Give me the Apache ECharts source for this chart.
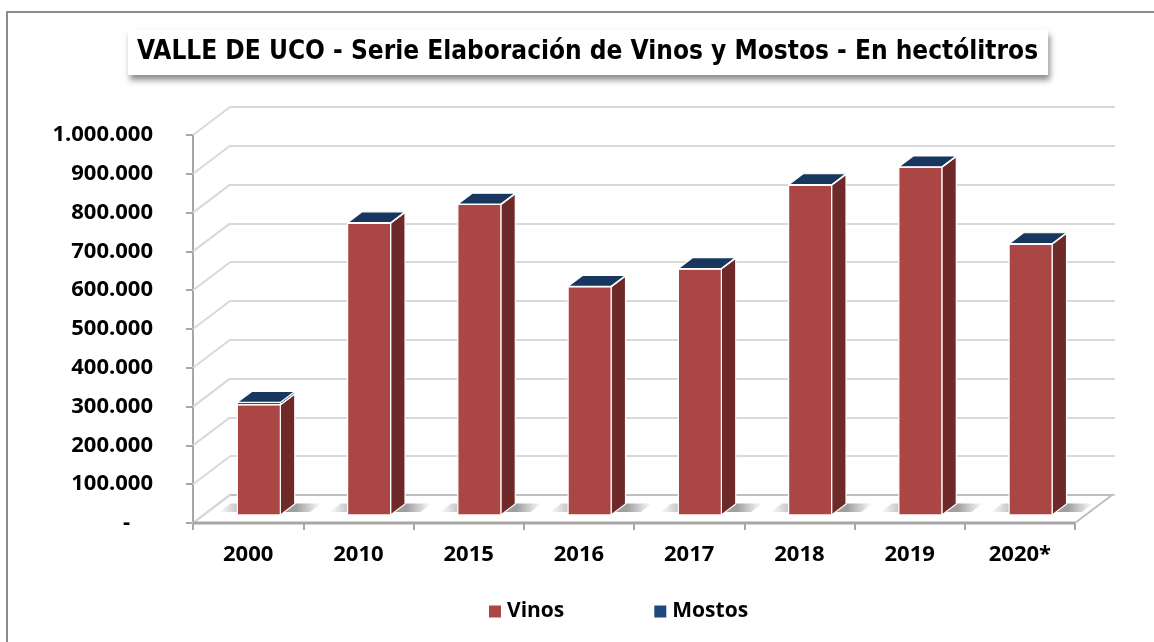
<!DOCTYPE html>
<html>
<head>
<meta charset="utf-8">
<script src="https://cdn.jsdelivr.net/npm/echarts@6/dist/echarts.min.js"></script>
<style>
  html, body { margin: 0; padding: 0; background: #fff; }
  #chart { width: 1154px; height: 642px; }
</style>
</head>
<body>
<div id="chart"></div>
<script>
// datos (hectólitros)
var years = ['2000', '2010', '2015', '2016', '2017', '2018', '2019', '2020*'];
var vinos = [284000, 752000, 800000, 588000, 634000, 850000, 896000, 698000];
var mostos = [6000, 1000, 1000, 1000, 1000, 1000, 1000, 1000];
var yTicks = [0, 100000, 200000, 300000, 400000, 500000, 600000, 700000, 800000, 900000, 1000000];

// profundidad del efecto 3D
var DX = 37, DY = -28;
var F1 = 0.29, F2 = 0.68;   // cara frontal / trasera de la barra (fraccion de profundidad)
var BAR = 0.39;             // ancho de barra respecto a la categoria

var fontAxis = "'Open Sans', 'DejaVu Sans', sans-serif";

function fmt(v) {
  if (v === 0) return '-    ';
  return String(v).replace(/\B(?=(\d{3})+(?!\d))/g, '.');
}

function boxItems(api, base, top, c) {
  var cat = api.value(0);
  var pB = api.coord([cat, base]);
  var pT = api.coord([cat, top]);
  var w = api.size([1, 0])[0] * BAR;
  var xL = pB[0] - w / 2 + F1 * DX;
  var yB = pB[1] + F1 * DY;
  var yT = pT[1] + F1 * DY;
  var dx = (F2 - F1) * DX, dy = (F2 - F1) * DY;
  var edge = { stroke: '#fff', lineWidth: 1.2, lineJoin: 'round' };
  return [
    { type: 'polygon', shape: { points: [[xL + w, yT], [xL + w + dx, yT + dy], [xL + w + dx, yB + dy], [xL + w, yB]] },
      style: Object.assign({ fill: c.side }, edge) },
    { type: 'rect', shape: { x: xL, y: yT, width: w, height: yB - yT },
      style: Object.assign({ fill: c.front }, edge) },
    { type: 'polygon', shape: { points: [[xL, yT], [xL + w, yT], [xL + w + dx, yT + dy], [xL + dx, yT + dy]] },
      style: Object.assign({ fill: c.top }, edge) }
  ];
}

var shadowFill = new echarts.graphic.LinearGradient(0, 0, 1, 0, [
  { offset: 0, color: 'rgba(0,0,0,0)' },
  { offset: 0.3, color: 'rgba(0,0,0,0.38)' },
  { offset: 0.75, color: 'rgba(0,0,0,0.38)' },
  { offset: 1, color: 'rgba(0,0,0,0)' }
]);

var chart = echarts.init(document.getElementById('chart'));

var option = {
  animation: false,
  backgroundColor: '#fff',
  title: {
    text: 'VALLE DE UCO - Serie Elaboración de Vinos y Mostos - En hectólitros',
    left: 128,
    top: 30,
    padding: [9, 10, 10, 9],
    backgroundColor: '#fff',
    shadowColor: 'rgba(0,0,0,0.45)',
    shadowBlur: 6,
    shadowOffsetX: 2,
    shadowOffsetY: 5,
    textStyle: {
      fontFamily: "'DejaVu Sans Condensed', 'Liberation Sans Narrow', sans-serif",
      fontWeight: 'bold',
      fontSize: 26,
      color: '#000'
    }
  },
  legend: {
    left: 484,
    top: 596,
    itemGap: 90,
    itemWidth: 12,
    itemHeight: 12,
    icon: 'rect',
    data: ['Vinos', 'Mostos'],
    textStyle: { fontFamily: fontAxis, fontWeight: 'bold', fontSize: 21, color: '#000', padding: [0, 0, 0, 1] }
  },
  graphic: [{
    type: 'rect',
    shape: { x: 7, y: 12, width: 1200, height: 700 },
    style: { fill: 'none', stroke: '#8c8c8c', lineWidth: 2 },
    silent: true
  }],
  grid: [
    { left: 193, right: 79, top: 135, bottom: 119 },
    { left: 230, right: 39, top: 107, bottom: 147 }
  ],
  xAxis: [{
    type: 'category',
    gridIndex: 0,
    data: years,
    axisLine: { lineStyle: { color: '#a6a6a6', width: 2 } },
    axisTick: { show: true, length: 7, lineStyle: { color: '#a6a6a6', width: 2 } },
    axisLabel: { margin: 21, fontFamily: fontAxis, fontWeight: 'bold', fontSize: 22, color: '#000' }
  }, {
    type: 'category',
    gridIndex: 1,
    data: years,
    show: false
  }],
  yAxis: [{
    type: 'value',
    gridIndex: 0,
    min: 0,
    max: 1000000,
    interval: 100000,
    axisLine: { show: true, lineStyle: { color: '#a6a6a6', width: 2 } },
    axisTick: { show: true, length: 7, lineStyle: { color: '#a6a6a6', width: 2 } },
    splitLine: { show: false },
    axisLabel: { margin: 40, formatter: fmt, fontFamily: fontAxis, fontWeight: 'bold', fontSize: 22, color: '#000' }
  }, {
    type: 'value',
    gridIndex: 1,
    min: 0,
    max: 1000000,
    interval: 100000,
    axisLine: { show: false },
    axisTick: { show: false },
    axisLabel: { show: false },
    splitLine: { show: true, lineStyle: { color: '#d9d9d9', width: 2 } }
  }],
  series: [{
    // pared izquierda y piso
    type: 'custom',
    name: 'walls',
    xAxisIndex: 0,
    yAxisIndex: 0,
    z: 1,
    silent: true,
    legendHoverLink: false,
    data: yTicks.map(function (v) { return [0, v]; }),
    renderItem: function (params, api) {
      var cs = params.coordSys;
      var p = api.coord([0, api.value(1)]);
      var children = [{
        type: 'line',
        shape: { x1: cs.x, y1: p[1], x2: cs.x + DX, y2: p[1] + DY },
        style: { stroke: '#d9d9d9', lineWidth: 2 }
      }];
      if (params.dataIndex === 0) {
        var yb = cs.y + cs.height, x0 = cs.x, x1 = cs.x + cs.width;
        children.unshift({
          type: 'polygon',
          shape: { points: [[x0, yb], [x1, yb], [x1 + DX, yb + DY], [x0 + DX, yb + DY]] },
          style: { fill: '#fff', stroke: '#bfbfbf', lineWidth: 2 }
        });
        children.push({
          type: 'line',
          shape: { x1: x0, y1: yb, x2: x1, y2: yb },
          style: { stroke: '#a6a6a6', lineWidth: 3 }
        });
      }
      return { type: 'group', children: children };
    }
  }, {
    // sombra de las barras
    type: 'custom',
    name: 'shadow',
    xAxisIndex: 0,
    yAxisIndex: 0,
    z: 2,
    silent: true,
    data: vinos.map(function (v, i) { return [i, 0]; }),
    renderItem: function (params, api) {
      var pB = api.coord([api.value(0), 0]);
      var w = api.size([1, 0])[0] * BAR;
      var xL = pB[0] - w / 2;
      var a = F1 + 0.1, b = F2 + 0.02;
      return {
        type: 'polygon',
        shape: { points: [
          [xL - 22 + a * DX, pB[1] + a * DY], [xL + w + 26 + a * DX, pB[1] + a * DY],
          [xL + w + 26 + b * DX, pB[1] + b * DY], [xL - 22 + b * DX, pB[1] + b * DY]
        ] },
        style: { fill: shadowFill }
      };
    }
  }, {
    type: 'custom',
    name: 'Vinos',
    xAxisIndex: 0,
    yAxisIndex: 0,
    z: 3,
    itemStyle: { color: '#AA4643' },
    encode: { x: 0, y: 2 },
    data: vinos.map(function (v, i) { return [i, 0, v]; }),
    renderItem: function (params, api) {
      return { type: 'group', children: boxItems(api, api.value(1), api.value(2),
        { front: '#AA4643', side: '#6D2A28', top: '#C0504D' }) };
    }
  }, {
    type: 'custom',
    name: 'Mostos',
    xAxisIndex: 0,
    yAxisIndex: 0,
    z: 4,
    itemStyle: { color: '#1F497D' },
    encode: { x: 0, y: 2 },
    data: mostos.map(function (m, i) { return [i, vinos[i], vinos[i] + m]; }),
    renderItem: function (params, api) {
      return { type: 'group', children: boxItems(api, api.value(1), api.value(2),
        { front: '#1F497D', side: '#17375E', top: '#17375E' }) };
    }
  }]
};

chart.setOption(option);
</script>
</body>
</html>
